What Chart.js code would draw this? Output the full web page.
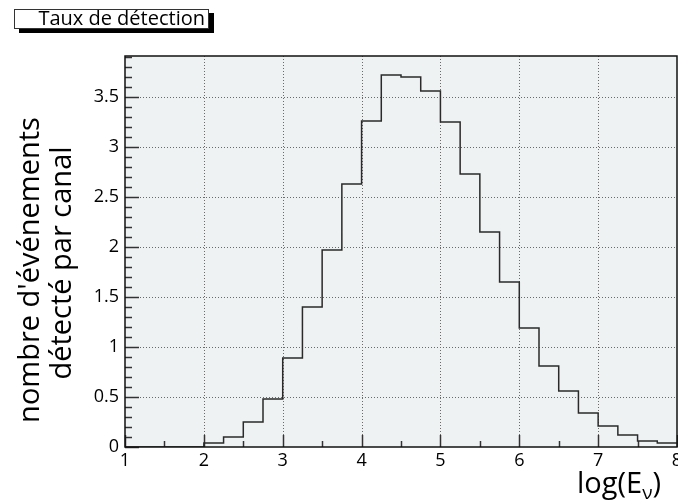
<!DOCTYPE html>
<html>
<head>
<meta charset="utf-8">
<script src="https://cdn.jsdelivr.net/npm/chart.js@4/dist/chart.umd.min.js"></script>
<style>
  html, body { margin: 0; padding: 0; background: #fff; }
  canvas { display: block; }
</style>
</head>
<body>
<canvas id="c" width="678" height="504"></canvas>
<script>
// Histogram bin edges (log of neutrino energy), 28 bins from 1 to 8
const binEdges = [1, 1.25, 1.5, 1.75, 2, 2.25, 2.5, 2.75, 3, 3.25, 3.5, 3.75,
                  4, 4.25, 4.5, 4.75, 5, 5.25, 5.5, 5.75, 6, 6.25, 6.5, 6.75,
                  7, 7.25, 7.5, 7.75, 8];
// Detected events per channel, one value per bin
const counts = [0, 0, 0, 0, 0.04, 0.10, 0.25, 0.48, 0.89, 1.40, 1.97, 2.63,
                3.26, 3.72, 3.70, 3.56, 3.25, 2.73, 2.15, 1.65, 1.19, 0.81, 0.56, 0.34,
                0.21, 0.12, 0.06, 0.04];
const xTicks = [1, 2, 3, 4, 5, 6, 7, 8];
const yTicks = [0, 0.5, 1, 1.5, 2, 2.5, 3, 3.5];

const titleText = 'Taux de détection';
const yTitleLines = ["nombre d'événements", 'détecté par canal'];

// step points: each lower edge carries its bin's value, the last edge closes the final bin
const points = counts.map((v, i) => ({ x: binEdges[i], y: v }));
points.push({ x: binEdges[binEdges.length - 1], y: counts[counts.length - 1] });

const FONT = "'Open Sans', 'DejaVu Sans', sans-serif";

// plot frame: background, dotted grid, inner tick marks
const framePlugin = {
  id: 'frame',
  beforeDatasetsDraw(chart) {
    const { ctx, chartArea: a, scales: { x, y } } = chart;
    ctx.save();
    ctx.fillStyle = '#eff2f3';
    ctx.fillRect(a.left, a.top, a.right - a.left, a.bottom - a.top);

    ctx.strokeStyle = '#6a6a6a';
    ctx.lineWidth = 1;
    ctx.setLineDash([1, 2]);
    xTicks.forEach(v => {
      const px = Math.round(x.getPixelForValue(v)) + 0.5;
      if (px <= a.left + 1 || px >= a.right - 1) return;
      ctx.beginPath(); ctx.moveTo(px, a.top); ctx.lineTo(px, a.bottom); ctx.stroke();
    });
    yTicks.forEach(v => {
      const py = Math.round(y.getPixelForValue(v)) + 0.5;
      if (py >= a.bottom - 1) return;
      ctx.beginPath(); ctx.moveTo(a.left, py); ctx.lineTo(a.right, py); ctx.stroke();
    });
    ctx.setLineDash([]);

    // tick marks on the left axis: majors every 0.5, minors every 0.1
    ctx.strokeStyle = '#333';
    ctx.lineWidth = 1.5;
    for (let k = 0; k <= 39; k++) {
      const v = k / 10;
      if (v > y.max) break;
      const py = Math.round(y.getPixelForValue(v)) + 0.5;
      const len = (k % 5 === 0) ? 14 : 7;
      ctx.beginPath(); ctx.moveTo(a.left, py); ctx.lineTo(a.left + len, py); ctx.stroke();
    }
    // tick marks on the bottom axis: majors on integers, minors on halves
    for (let k = 2; k <= 16; k++) {
      const v = k / 2;
      const px = Math.round(x.getPixelForValue(v)) + 0.5;
      const len = (k % 2 === 0) ? 12 : 6;
      ctx.beginPath(); ctx.moveTo(px, a.bottom); ctx.lineTo(px, a.bottom - len); ctx.stroke();
    }
    ctx.restore();
  },
  afterDatasetsDraw(chart) {
    const { ctx, chartArea: a } = chart;
    ctx.save();
    ctx.strokeStyle = '#111';
    ctx.lineWidth = 1.5;
    ctx.strokeRect(a.left, a.top, a.right - a.left, a.bottom - a.top);
    ctx.restore();
  }
};

// title box, axis titles
const textPlugin = {
  id: 'texts',
  afterDraw(chart) {
    const { ctx } = chart;
    ctx.save();
    // title box with drop shadow
    ctx.fillStyle = '#000';
    ctx.fillRect(19, 13, 195, 20);
    ctx.fillStyle = '#fff';
    ctx.fillRect(14, 9, 195, 20);
    ctx.strokeStyle = '#333';
    ctx.lineWidth = 1;
    ctx.strokeRect(14.5, 9.5, 194, 19);
    ctx.fillStyle = '#000';
    ctx.font = `20px ${FONT}`;
    ctx.textAlign = 'right';
    ctx.textBaseline = 'alphabetic';
    ctx.fillText(titleText, 205, 25);

    // y axis title, two rotated lines
    ctx.font = `29px ${FONT}`;
    ctx.textAlign = 'center';
    ctx.save();
    ctx.translate(39, 270);
    ctx.rotate(-Math.PI / 2);
    ctx.fillText(yTitleLines[0], 0, 0);
    ctx.restore();
    ctx.save();
    ctx.translate(71, 263);
    ctx.rotate(-Math.PI / 2);
    ctx.fillText(yTitleLines[1], 0, 0);
    ctx.restore();

    // x axis title log(E_nu)
    const base = 493;
    const big = `29px ${FONT}`, small = `19px ${FONT}`;
    ctx.textAlign = 'left';
    const p1 = 'log(E', p2 = 'ν', p3 = ')';
    ctx.font = big;
    const w1 = ctx.measureText(p1).width;
    const w3 = ctx.measureText(p3).width;
    ctx.font = small;
    const w2 = ctx.measureText(p2).width;
    const x0 = 661 - (w1 + w2 + w3);
    ctx.font = big;
    ctx.fillText(p1, x0, base);
    ctx.font = small;
    ctx.fillText(p2, x0 + w1, base + 6);
    ctx.font = big;
    ctx.fillText(p3, x0 + w1 + w2, base);
    ctx.restore();
  }
};

new Chart(document.getElementById('c'), {
  type: 'line',
  data: {
    datasets: [{
      data: points,
      stepped: 'before',
      borderColor: '#2a2a2a',
      borderWidth: 1.5,
      pointRadius: 0,
      fill: false
    }]
  },
  options: {
    responsive: false,
    animation: false,
    events: [],
    layout: { padding: { left: 0, top: 56, right: 1, bottom: 0 } },
    plugins: { legend: { display: false }, tooltip: { enabled: false }, title: { display: false } },
    scales: {
      x: {
        type: 'linear',
        min: 1, max: 8,
        grid: { display: false, drawTicks: false },
        border: { display: false },
        ticks: {
          stepSize: 1, padding: 3, color: '#000', maxRotation: 0, autoSkip: false,
          font: { family: FONT, size: 18 },
          callback: v => String(v)
        },
        afterFit(s) { s.height = 57; s.paddingLeft = 0; s.paddingRight = 0; }
      },
      y: {
        min: 0, max: 3.91,
        grid: { display: false, drawTicks: false },
        border: { display: false },
        ticks: {
          stepSize: 0.5, includeBounds: false, padding: 6, color: '#000',
          font: { family: FONT, size: 18 },
          callback: v => String(v)
        },
        afterFit(s) { s.width = 125; s.paddingTop = 0; s.paddingBottom = 0; }
      }
    }
  },
  plugins: [framePlugin, textPlugin]
});
</script>
</body>
</html>
